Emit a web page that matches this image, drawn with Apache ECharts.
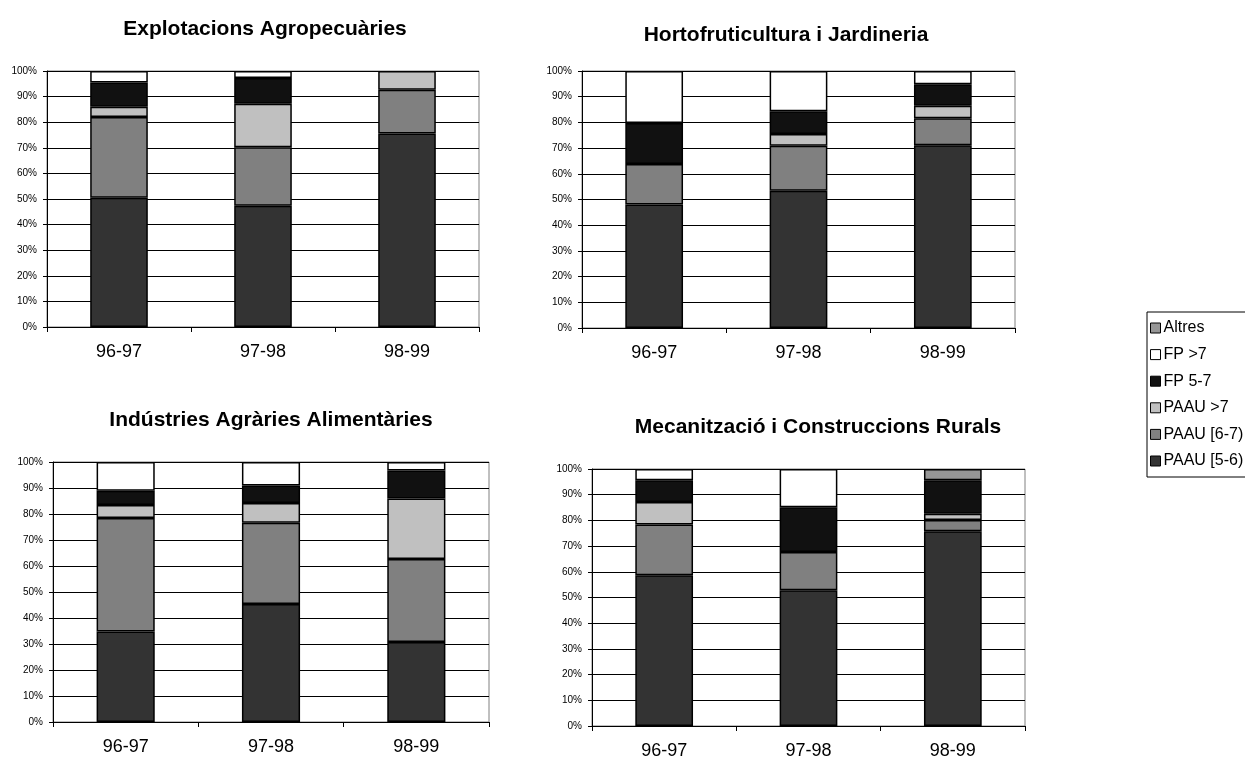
<!DOCTYPE html>
<html>
<head>
<meta charset="utf-8">
<script src="https://cdn.jsdelivr.net/npm/echarts@6/dist/echarts.min.js"></script>
<style>
html,body{margin:0;padding:0;background:#fff;}
#c{width:1245px;height:760px;}
</style>
</head>
<body>
<div id="c"></div>
<script>
// ---- data ----
const categories = ['96-97', '97-98', '98-99'];
const seriesNames = ['PAAU [5-6)', 'PAAU [6-7)', 'PAAU >7', 'FP 5-7', 'FP >7', 'Altres'];
const legendOrder = ['Altres', 'FP >7', 'FP 5-7', 'PAAU >7', 'PAAU [6-7)', 'PAAU [5-6)'];
const yTicks = [0, 10, 20, 30, 40, 50, 60, 70, 80, 90, 100];

const chartTitles = [
  'Explotacions Agropecuàries',
  'Hortofruticultura i Jardineria',
  'Indústries Agràries Alimentàries',
  'Mecanització i Construccions Rurals'
];

// Explotacions Agropecuàries
const agro_PAAU56 = [50.5, 47.4, 75.6];
const agro_PAAU67 = [31.5, 22.8, 17.1];
const agro_PAAU7  = [4.0, 17.0, 7.3];
const agro_FP57   = [9.5, 10.1, 0];
const agro_FP7    = [4.5, 2.7, 0];
const agro_Altres = [0, 0, 0];

// Hortofruticultura i Jardineria
const horto_PAAU56 = [48.1, 53.4, 71.1];
const horto_PAAU67 = [15.7, 17.5, 10.5];
const horto_PAAU7  = [0, 4.6, 4.9];
const horto_FP57   = [16.0, 8.8, 8.3];
const horto_FP7    = [20.2, 15.7, 5.2];
const horto_Altres = [0, 0, 0];

// Indústries Agràries Alimentàries
const indus_PAAU56 = [34.8, 45.4, 30.8];
const indus_PAAU67 = [43.7, 31.2, 31.9];
const indus_PAAU7  = [5.0, 7.6, 23.3];
const indus_FP57   = [5.4, 6.8, 10.7];
const indus_FP7    = [11.1, 9.0, 3.3];
const indus_Altres = [0, 0, 0];

// Mecanització i Construccions Rurals
const mecan_PAAU56 = [58.7, 52.8, 75.8];
const mecan_PAAU67 = [19.7, 14.9, 4.4];
const mecan_PAAU7  = [8.8, 0, 2.4];
const mecan_FP57   = [8.4, 17.4, 13.0];
const mecan_FP7    = [4.4, 14.9, 0];
const mecan_Altres = [0, 0, 4.4];

// ---- styling / layout ----
const chartData = [
  [agro_PAAU56, agro_PAAU67, agro_PAAU7, agro_FP57, agro_FP7, agro_Altres],
  [horto_PAAU56, horto_PAAU67, horto_PAAU7, horto_FP57, horto_FP7, horto_Altres],
  [indus_PAAU56, indus_PAAU67, indus_PAAU7, indus_FP57, indus_FP7, indus_Altres],
  [mecan_PAAU56, mecan_PAAU67, mecan_PAAU7, mecan_FP57, mecan_FP7, mecan_Altres]
];
const colors = {
  'PAAU [5-6)': '#333333',
  'PAAU [6-7)': '#808080',
  'PAAU >7': '#c0c0c0',
  'FP 5-7': '#111111',
  'FP >7': '#ffffff',
  'Altres': '#969696'
};
const grids = [
  {left: 47, top: 71, width: 432, height: 256},
  {left: 582, top: 71, width: 433, height: 257},
  {left: 53, top: 462, width: 436, height: 260},
  {left: 592, top: 469, width: 433, height: 258}
];
const titlePos = [
  {x: 265, y: 19},
  {x: 786, y: 25},
  {x: 271, y: 410},
  {x: 818, y: 417}
];
const FONT = 'Liberation Sans, Arial, Helvetica, sans-serif';

const option = {
  animation: false,
  backgroundColor: '#ffffff',
  title: titlePos.map((p, i) => ({
    text: chartTitles[i],
    left: p.x,
    top: p.y,
    textAlign: 'center',
    padding: 0,
    textStyle: {fontFamily: FONT, fontWeight: 'bold', fontSize: 21, color: '#000'}
  })),
  legend: {
    orient: 'vertical',
    left: 1147,
    top: 312,
    data: legendOrder,
    icon: 'rect',
    itemWidth: 10,
    itemHeight: 10,
    itemGap: 10.6,
    padding: [8, 8, 8, 3],
    borderColor: '#000',
    borderWidth: 1,
    selectedMode: false,
    textStyle: {fontFamily: FONT, fontSize: 16, color: '#000', padding: [0, 0, 0, -2]},
    itemStyle: {borderColor: '#000', borderWidth: 1}
  },
  grid: grids.map(g => ({
    left: g.left, top: g.top, width: g.width, height: g.height,
    show: true, borderColor: '#808080', borderWidth: 1, backgroundColor: 'transparent'
  })),
  xAxis: grids.map((g, i) => ({
    type: 'category',
    gridIndex: i,
    data: categories,
    axisLine: {show: true, lineStyle: {color: '#000', width: 1}},
    axisTick: {show: true, length: 5, lineStyle: {color: '#000'}},
    axisLabel: {fontFamily: FONT, fontSize: 18, color: '#000', margin: 16},
    splitLine: {show: false}
  })),
  yAxis: grids.map((g, i) => ({
    type: 'value',
    gridIndex: i,
    min: yTicks[0],
    max: yTicks[yTicks.length - 1],
    interval: 10,
    axisLine: {show: true, lineStyle: {color: '#000', width: 1}},
    axisTick: {show: true, length: 4, lineStyle: {color: '#000'}},
    axisLabel: {fontFamily: FONT, fontSize: 10, color: '#000', margin: 10, formatter: '{value}%'},
    splitLine: {show: true, lineStyle: {color: '#000', width: 1}}
  })),
  series: []
};

chartData.forEach((arrs, gi) => {
  arrs.forEach((arr, si) => {
    const name = seriesNames[si];
    option.series.push({
      type: 'bar',
      name: name,
      stack: 'g' + gi,
      xAxisIndex: gi,
      yAxisIndex: gi,
      barWidth: '40%',
      data: arr.map(v => v === 0 ? null : v),
      itemStyle: {color: colors[name], borderColor: '#000', borderWidth: 1.5}
    });
  });
});

const chart = echarts.init(document.getElementById('c'), null, {renderer: 'canvas'});
chart.setOption(option);
</script>
</body>
</html>
